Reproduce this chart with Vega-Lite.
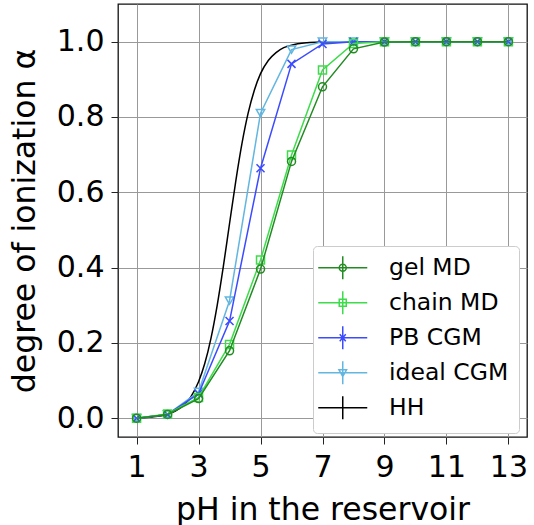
{
  "$schema": "https://vega.github.io/schema/vega-lite/v6.json",
  "width": 409,
  "height": 433,
  "autosize": {"type": "none"},
  "padding": {"left": 118, "top": 4, "right": 7, "bottom": 88},
  "background": "white",
  "config": {
    "font": "DejaVu Sans",
    "view": {"stroke": "#111111", "strokeWidth": 1.3},
    "axis": {
      "labelFontSize": 30,
      "titleFontSize": 31.5,
      "labelColor": "black",
      "titleColor": "black",
      "titleFontWeight": "normal",
      "tickColor": "#222222",
      "tickSize": 7,
      "tickWidth": 1,
      "domain": false,
      "grid": true,
      "gridColor": "#999999",
      "gridWidth": 1
    }
  },
  "datasets": {
    "points": [
      {"series": "gel MD", "pH": 1, "alpha": 0.0},
      {"series": "gel MD", "pH": 2, "alpha": 0.01},
      {"series": "gel MD", "pH": 3, "alpha": 0.052},
      {"series": "gel MD", "pH": 4, "alpha": 0.179},
      {"series": "gel MD", "pH": 5, "alpha": 0.396},
      {"series": "gel MD", "pH": 6, "alpha": 0.682},
      {"series": "gel MD", "pH": 7, "alpha": 0.88},
      {"series": "gel MD", "pH": 8, "alpha": 0.981},
      {"series": "gel MD", "pH": 9, "alpha": 0.999},
      {"series": "gel MD", "pH": 10, "alpha": 1.0},
      {"series": "gel MD", "pH": 11, "alpha": 1.0},
      {"series": "gel MD", "pH": 12, "alpha": 1.0},
      {"series": "gel MD", "pH": 13, "alpha": 1.0},
      {"series": "chain MD", "pH": 1, "alpha": 0.0},
      {"series": "chain MD", "pH": 2, "alpha": 0.011},
      {"series": "chain MD", "pH": 3, "alpha": 0.055},
      {"series": "chain MD", "pH": 4, "alpha": 0.196},
      {"series": "chain MD", "pH": 5, "alpha": 0.42},
      {"series": "chain MD", "pH": 6, "alpha": 0.699},
      {"series": "chain MD", "pH": 7, "alpha": 0.925},
      {"series": "chain MD", "pH": 8, "alpha": 0.995},
      {"series": "chain MD", "pH": 9, "alpha": 1.0},
      {"series": "chain MD", "pH": 10, "alpha": 1.0},
      {"series": "chain MD", "pH": 11, "alpha": 1.0},
      {"series": "chain MD", "pH": 12, "alpha": 1.0},
      {"series": "chain MD", "pH": 13, "alpha": 1.0},
      {"series": "PB CGM", "pH": 1, "alpha": 0.0},
      {"series": "PB CGM", "pH": 2, "alpha": 0.01},
      {"series": "PB CGM", "pH": 3, "alpha": 0.065},
      {"series": "PB CGM", "pH": 4, "alpha": 0.258},
      {"series": "PB CGM", "pH": 5, "alpha": 0.664},
      {"series": "PB CGM", "pH": 6, "alpha": 0.941},
      {"series": "PB CGM", "pH": 7, "alpha": 0.994},
      {"series": "PB CGM", "pH": 8, "alpha": 1.0},
      {"series": "PB CGM", "pH": 9, "alpha": 1.0},
      {"series": "PB CGM", "pH": 10, "alpha": 1.0},
      {"series": "PB CGM", "pH": 11, "alpha": 1.0},
      {"series": "PB CGM", "pH": 12, "alpha": 1.0},
      {"series": "PB CGM", "pH": 13, "alpha": 1.0},
      {"series": "ideal CGM", "pH": 1, "alpha": 0.0},
      {"series": "ideal CGM", "pH": 2, "alpha": 0.01},
      {"series": "ideal CGM", "pH": 3, "alpha": 0.07},
      {"series": "ideal CGM", "pH": 4, "alpha": 0.312},
      {"series": "ideal CGM", "pH": 5, "alpha": 0.81},
      {"series": "ideal CGM", "pH": 6, "alpha": 0.979},
      {"series": "ideal CGM", "pH": 7, "alpha": 1.0},
      {"series": "ideal CGM", "pH": 8, "alpha": 1.0},
      {"series": "ideal CGM", "pH": 9, "alpha": 1.0},
      {"series": "ideal CGM", "pH": 10, "alpha": 1.0},
      {"series": "ideal CGM", "pH": 11, "alpha": 1.0},
      {"series": "ideal CGM", "pH": 12, "alpha": 1.0},
      {"series": "ideal CGM", "pH": 13, "alpha": 1.0}
    ],
    "hh": [
      {"series": "HH", "pH": 1.0, "alpha": 0.0011},
      {"series": "HH", "pH": 1.5, "alpha": 0.0034},
      {"series": "HH", "pH": 2.0, "alpha": 0.0106},
      {"series": "HH", "pH": 2.25, "alpha": 0.0187},
      {"series": "HH", "pH": 2.5, "alpha": 0.0328},
      {"series": "HH", "pH": 2.75, "alpha": 0.0568},
      {"series": "HH", "pH": 3.0, "alpha": 0.0968},
      {"series": "HH", "pH": 3.2, "alpha": 0.145},
      {"series": "HH", "pH": 3.4, "alpha": 0.212},
      {"series": "HH", "pH": 3.6, "alpha": 0.299},
      {"series": "HH", "pH": 3.8, "alpha": 0.403},
      {"series": "HH", "pH": 4.0, "alpha": 0.517},
      {"series": "HH", "pH": 4.2, "alpha": 0.629},
      {"series": "HH", "pH": 4.4, "alpha": 0.729},
      {"series": "HH", "pH": 4.6, "alpha": 0.81},
      {"series": "HH", "pH": 4.8, "alpha": 0.871},
      {"series": "HH", "pH": 5.0, "alpha": 0.915},
      {"series": "HH", "pH": 5.25, "alpha": 0.95},
      {"series": "HH", "pH": 5.5, "alpha": 0.971},
      {"series": "HH", "pH": 5.75, "alpha": 0.984},
      {"series": "HH", "pH": 6.0, "alpha": 0.9908},
      {"series": "HH", "pH": 6.5, "alpha": 0.9971},
      {"series": "HH", "pH": 7.0, "alpha": 0.9991},
      {"series": "HH", "pH": 7.5, "alpha": 0.9997},
      {"series": "HH", "pH": 8.0, "alpha": 0.9999},
      {"series": "HH", "pH": 9.0, "alpha": 1.0},
      {"series": "HH", "pH": 10.0, "alpha": 1.0},
      {"series": "HH", "pH": 11.0, "alpha": 1.0},
      {"series": "HH", "pH": 12.0, "alpha": 1.0},
      {"series": "HH", "pH": 13.0, "alpha": 1.0}
    ]
  },
  "encoding": {
    "x": {
      "field": "pH",
      "type": "quantitative",
      "scale": {"domain": [0.4, 13.6], "nice": false, "zero": false},
      "axis": {"values": [1, 3, 5, 7, 9, 11, 13], "title": "pH in the reservoir", "labelPadding": 8, "titlePadding": 12}
    },
    "y": {
      "field": "alpha",
      "type": "quantitative",
      "scale": {"domain": [-0.05, 1.1], "nice": false, "zero": false},
      "axis": {"values": [0, 0.2, 0.4, 0.6, 0.8, 1.0], "format": ".1f", "title": "degree of ionization α", "labelPadding": 7, "titlePadding": 15}
    }
  },
  "layer": [
    {
      "data": {"name": "hh"},
      "mark": {"type": "line", "strokeWidth": 1.5, "color": "#000000", "interpolate": "monotone"}
    },
    {
      "data": {"name": "points"},
      "transform": [{"filter": "datum.series === 'ideal CGM'"}],
      "layer": [
        {"mark": {"type": "line", "strokeWidth": 1.5, "color": "#62b6e0"}},
        {"mark": {"type": "point", "filled": false, "color": "#62b6e0", "shape": "triangle-down", "size": 70, "strokeWidth": 1.5, "opacity": 1}}
      ]
    },
    {
      "data": {"name": "points"},
      "transform": [{"filter": "datum.series === 'PB CGM'"}],
      "layer": [
        {"mark": {"type": "line", "strokeWidth": 1.5, "color": "#3b4bff"}},
        {"mark": {"type": "point", "filled": false, "color": "#3b4bff", "shape": "M-1,-1L1,1M-1,1L1,-1", "size": 64, "strokeWidth": 1.5, "opacity": 1}}
      ]
    },
    {
      "data": {"name": "points"},
      "transform": [{"filter": "datum.series === 'chain MD'"}],
      "layer": [
        {"mark": {"type": "line", "strokeWidth": 1.5, "color": "#3ddc4a"}},
        {"mark": {"type": "point", "filled": false, "color": "#3ddc4a", "shape": "square", "size": 64, "strokeWidth": 1.5, "opacity": 1}}
      ]
    },
    {
      "data": {"name": "points"},
      "transform": [{"filter": "datum.series === 'gel MD'"}],
      "layer": [
        {"mark": {"type": "line", "strokeWidth": 1.5, "color": "#228b22"}},
        {"mark": {"type": "point", "filled": false, "color": "#228b22", "shape": "circle", "size": 64, "strokeWidth": 1.5, "opacity": 1}}
      ]
    },
    {
      "data": {"name": "points"},
      "mark": {"type": "point", "filled": false, "opacity": 0},
      "encoding": {
        "color": {
          "field": "series",
          "type": "nominal",
          "scale": {
            "domain": ["gel MD", "chain MD", "PB CGM", "ideal CGM", "HH"],
            "range": ["#228b22", "#3ddc4a", "#3b4bff", "#62b6e0", "#000000"]
          },
          "legend": {
            "orient": "none",
            "legendX": 195,
            "legendY": 242,
            "title": null,
            "labelFontSize": 23.5,
            "labelColor": "black",
            "symbolSize": 400,
            "symbolStrokeWidth": 1.5,
            "symbolOffset": 8,
            "strokeColor": "#cccccc",
            "fillColor": "white",
            "cornerRadius": 4,
            "padding": 10,
            "rowPadding": 5,
            "labelOffset": 34.5
          }
        },
        "shape": {
          "field": "series",
          "type": "nominal",
          "scale": {
            "domain": ["gel MD", "chain MD", "PB CGM", "ideal CGM", "HH"],
            "range": [
              "M-2.45,0L2.45,0M0,-1.15L0,1.15M0.35,0A0.35,0.35,0,1,1,-0.35,0A0.35,0.35,0,1,1,0.35,0",
              "M-2.45,0L2.45,0M0,-1.15L0,1.15M-0.35,-0.35L0.35,-0.35L0.35,0.35L-0.35,0.35Z",
              "M-2.45,0L2.45,0M0,-1.15L0,1.15M-0.3,-0.35L0.3,0.35M-0.3,0.35L0.3,-0.35",
              "M-2.45,0L2.45,0M0,-1.15L0,1.15M-0.38,-0.3L0.38,-0.3L0,0.38Z",
              "M-2.45,0L2.45,0M0,-1.15L0,1.15"
            ]
          },
          "legend": {
            "orient": "none",
            "legendX": 195,
            "legendY": 242,
            "title": null,
            "labelFontSize": 23.5,
            "labelColor": "black",
            "symbolSize": 400,
            "symbolStrokeWidth": 1.5,
            "symbolOffset": 8,
            "strokeColor": "#cccccc",
            "fillColor": "white",
            "cornerRadius": 4,
            "padding": 10,
            "rowPadding": 5,
            "labelOffset": 34.5
          }
        }
      }
    }
  ]
}
